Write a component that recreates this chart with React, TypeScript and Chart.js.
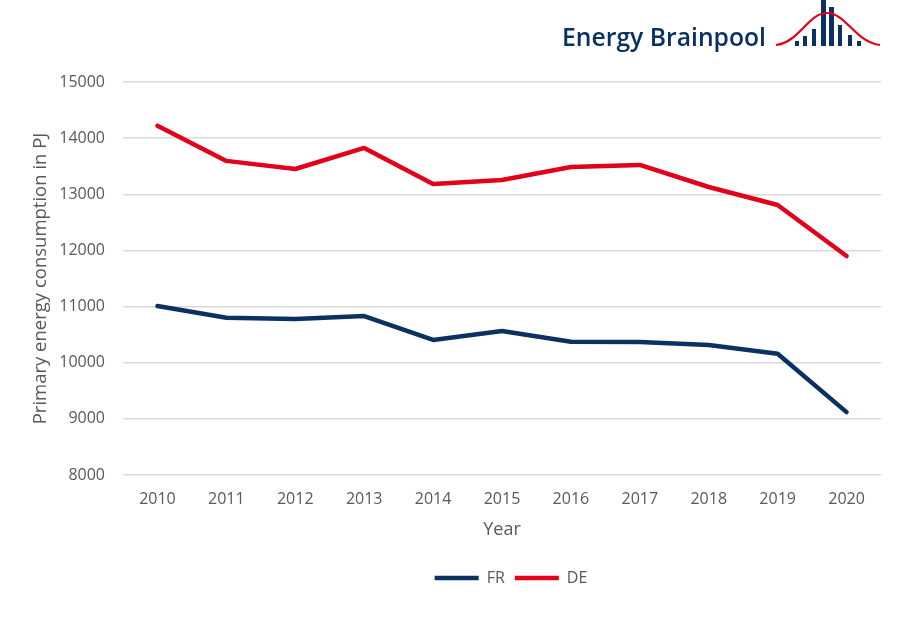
import React, { useEffect, useRef } from "react";
import { Chart, registerables } from "chart.js";

Chart.register(...registerables);

const years = ["2010", "2011", "2012", "2013", "2014", "2015", "2016", "2017", "2018", "2019", "2020"];
const frValues = [11010, 10800, 10780, 10830, 10405, 10565, 10375, 10370, 10316, 10160, 9120];
const deValues = [14220, 13595, 13450, 13825, 13185, 13255, 13486, 13522, 13130, 12810, 11900];
const yMin = 8000;
const yMax = 15000;
const yStep = 1000;

const FONT = "'Open Sans', 'Noto Sans', sans-serif";
const GREY = "#595959";
const NAVY = "#0b3162";
const RED = "#e2001a";

function Logo() {
  const bars = [
    [795, 41, 4],
    [803, 36, 4],
    [812, 29, 4],
    [821, 0, 5],
    [829, 7, 5],
    [838, 25, 4],
    [848, 35, 4],
    [857, 41, 4],
  ];
  return (
    <svg
      width={904}
      height={60}
      style={{ position: "absolute", left: 0, top: 0, pointerEvents: "none" }}
    >
      <text
        x={562}
        y={46}
        textLength={204}
        lengthAdjust="spacingAndGlyphs"
        fontFamily={FONT}
        fontWeight={600}
        fontSize={25}
        fill={NAVY}
      >
        Energy Brainpool
      </text>
      {bars.map(([x, y, w], i) => (
        <rect key={i} x={x} y={y} width={w} height={46 - y} fill={NAVY} />
      ))}
      <path
        d="M776,45 C800,42 808,13 827,13 C846,13 855,42 880,45"
        fill="none"
        stroke={RED}
        strokeWidth={2.2}
      />
    </svg>
  );
}

const legendShift = {
  id: "legendShift",
  afterLayout(chart: any) {
    const lg = chart.legend;
    if (lg) {
      lg.left = 141;
      lg.right = 881;
    }
  },
};

export default function App() {
  const canvasRef = useRef<HTMLCanvasElement | null>(null);

  useEffect(() => {
    if (!canvasRef.current) return;
    const chart = new Chart(canvasRef.current, {
      type: "line",
      data: {
        labels: years,
        datasets: [
          {
            label: "FR",
            data: frValues,
            borderColor: NAVY,
            backgroundColor: NAVY,
            borderWidth: 4.5,
            borderCapStyle: "round",
            borderJoinStyle: "round",
            pointRadius: 0,
            tension: 0,
          },
          {
            label: "DE",
            data: deValues,
            borderColor: RED,
            backgroundColor: RED,
            borderWidth: 4.5,
            borderCapStyle: "round",
            borderJoinStyle: "round",
            pointRadius: 0,
            tension: 0,
          },
        ],
      },
      plugins: [legendShift],
      options: {
        responsive: false,
        animation: false,
        devicePixelRatio: 1,
        layout: { padding: { left: 0, right: 23, top: 82, bottom: 22 } },
        plugins: {
          tooltip: { enabled: false },
          legend: {
            position: "bottom",
            labels: {
              usePointStyle: true,
              pointStyle: "line",
              pointStyleWidth: 44,
              padding: 10,
              color: GREY,
              font: { family: FONT, size: 16 },
            },
          },
        },
        scales: {
          x: {
            type: "category",
            offset: true,
            grid: { display: false, drawTicks: false },
            border: { display: false },
            ticks: { color: GREY, font: { family: FONT, size: 16 }, padding: 15 },
            title: {
              display: true,
              text: "Year",
              color: GREY,
              font: { family: FONT, size: 18 },
              padding: { top: 0, bottom: 19 },
            },
            afterFit: (s: any) => {
              s.height = 85;
            },
          },
          y: {
            min: yMin,
            max: yMax,
            grid: { color: "#d9d9d9", lineWidth: 1.4, drawTicks: false },
            border: { display: false },
            ticks: {
              stepSize: yStep,
              color: GREY,
              font: { family: FONT, size: 16 },
              padding: 18,
              callback: (v: any) => String(v),
            },
            title: {
              display: true,
              text: "Primary energy consumption in PJ",
              color: GREY,
              font: { family: FONT, size: 18.5 },
              padding: { top: 30, bottom: 0 },
            },
            afterFit: (s: any) => {
              s.width = 123;
            },
          },
        },
      },
    });
    return () => chart.destroy();
  }, []);

  return (
    <div style={{ position: "absolute", left: 0, top: 0, width: 904, height: 618, background: "#fff" }}>
      <canvas ref={canvasRef} width={904} height={618} style={{ display: "block" }} />
      <Logo />
    </div>
  );
}
